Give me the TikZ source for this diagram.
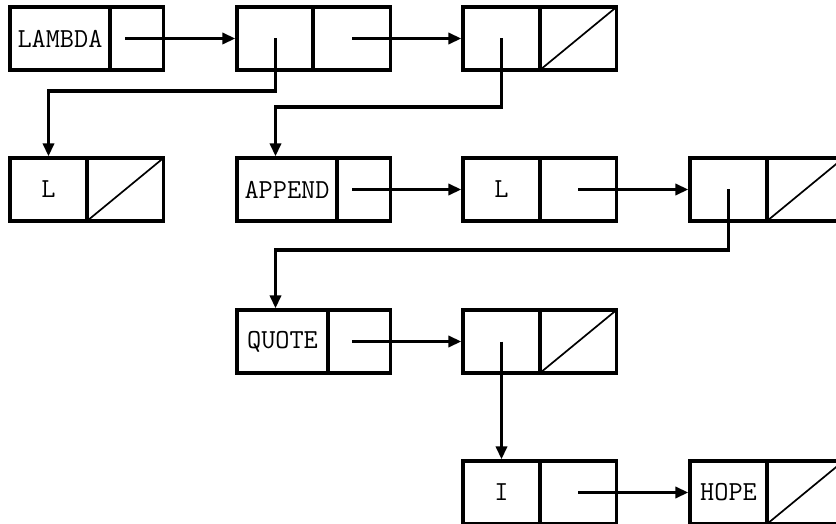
\documentclass[tikz,border=0pt]{standalone}
\usepackage{fontspec}
\usetikzlibrary{calc,arrows.meta}
\tikzset{
  cellbox/.style={draw, line width=3.3pt, minimum height=63pt, inner sep=0pt, outer sep=0pt,
    anchor=north west, font=\fontsize{27.5}{27.5}\selectfont\ttfamily},
  divline/.style={line width=4.3pt},
  nilline/.style={line width=1.7pt},
  ptr/.style={line width=3.3pt, -{Triangle[length=13pt,width=11pt]}, shorten >=1.6pt},
}
\newcommand\conscell[6]{% name, x, y, car width, text, nil (1 = yes)
  \pgfmathsetmacro\cdrw{153.5-#4}
  \node[cellbox, minimum width=#4pt] (#1a) at (#2,#3) {#5};
  \node[cellbox, minimum width=\cdrw pt] (#1d) at (#1a.north east) {};
  \draw[divline] (#1a.north east) -- (#1a.south east);
  \ifnum#6=1 \draw[nilline] (#1d.south west) -- (#1d.north east);\fi
  \coordinate (#1p) at ($(#1a.north west)+(38.5,31.5)$);
  \coordinate (#1q) at ($(#1a.north west)+(115,31.5)$);
  \coordinate (#1in) at ($(#1a.north west)+(38.5,0)$);
}
\begin{document}
\begin{tikzpicture}[x=1pt,y=-1pt]
\useasboundingbox (0,0) rectangle (836,524);
\conscell{A}{10}{7}{100}{LAMBDA}{0}
\conscell{B}{237}{7}{76}{}{0}
\conscell{C}{463}{7}{77}{}{1}
\conscell{D}{10}{158}{77}{L}{1}
\conscell{E}{237}{158}{100}{APPEND}{0}
\conscell{F}{463}{158}{77}{L}{0}
\conscell{G}{690}{158}{77}{}{1}
\conscell{H}{237}{310}{91}{QUOTE}{0}
\conscell{I}{463}{310}{77}{}{1}
\conscell{J}{463}{461}{77}{I}{0}
\conscell{K}{690}{461}{77}{HOPE}{1}
% pointers
\draw[ptr] (Aq) -- (Ba.west);
\draw[ptr] (Bq) -- (Ca.west);
\draw[ptr] (Bp) -- ++(0,52.5) -| (Din);
\draw[ptr] (Cp) -- ++(0,68.5) -| (Ein);
\draw[ptr] (Eq) -- (Fa.west);
\draw[ptr] (Fq) -- (Ga.west);
\draw[ptr] (Gp) -- ++(0,60.5) -| (Hin);
\draw[ptr] (Hq) -- (Ia.west);
\draw[ptr] (Ip) -- (Jin);
\draw[ptr] (Jq) -- (Ka.west);
\end{tikzpicture}
\end{document}
